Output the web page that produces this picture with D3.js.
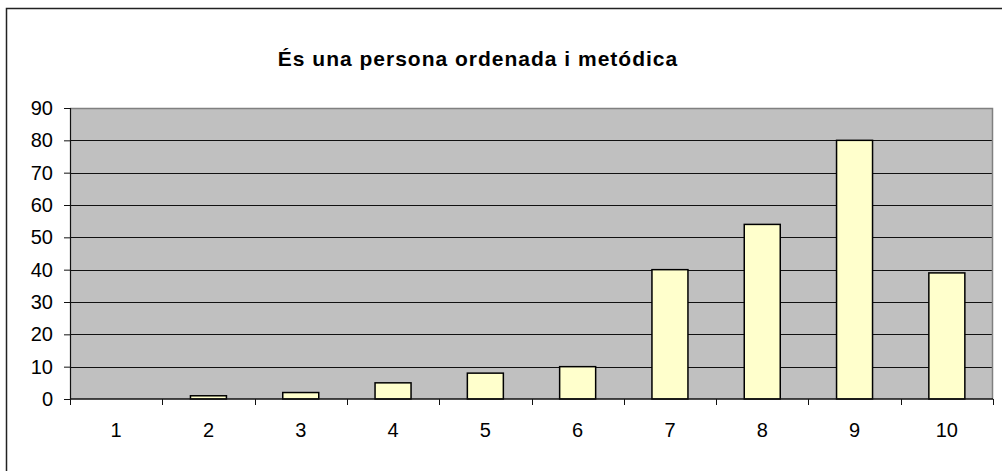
<!DOCTYPE html>
<html>
<head>
<meta charset="utf-8">
<script src="https://cdn.jsdelivr.net/npm/d3@7"></script>
<style>
  body { margin: 0; background: #fff; }
  text { font-family: "Liberation Sans", Arial, sans-serif; }
</style>
</head>
<body>
<div id="chart"></div>
<script>
// chart data
const categories = ["1", "2", "3", "4", "5", "6", "7", "8", "9", "10"];
const values = [0, 1, 2, 5, 8, 10, 40, 54, 80, 39];
const yTicks = [0, 10, 20, 30, 40, 50, 60, 70, 80, 90];
const title = "És una persona ordenada i metódica";

(function () {
  const W = 1002, H = 471;
  const margin = { top: 108, right: 9, bottom: 72, left: 70 };
  const width = W - margin.left - margin.right;
  const height = H - margin.top - margin.bottom;

  const svg = d3.select("#chart").append("svg")
    .attr("width", W)
    .attr("height", H);

  // outer chart border (runs off the right and bottom)
  svg.append("rect")
    .attr("x", 6.5).attr("y", 8.5)
    .attr("width", W + 20).attr("height", H + 20)
    .attr("fill", "none")
    .attr("stroke", "#222")
    .attr("stroke-width", 1.5);

  // title
  svg.append("text")
    .attr("x", 478)
    .attr("y", 66)
    .attr("text-anchor", "middle")
    .style("font-size", "21px")
    .style("font-weight", "bold")
    .style("letter-spacing", "1px")
    .text(title);

  const g = svg.append("g")
    .attr("transform", "translate(" + margin.left + "," + margin.top + ")");

  const x = d3.scaleBand()
    .domain(categories)
    .range([0, width])
    .paddingInner(0.61)
    .paddingOuter(0.305);

  const y = d3.scaleLinear().domain([0, 90]).range([height, 0]);

  // plot background
  g.append("rect")
    .attr("width", width).attr("height", height)
    .attr("fill", "#C0C0C0");

  // gridlines
  g.selectAll(".grid")
    .data(yTicks.filter(d => d > 0 && d < 90))
    .enter().append("line")
    .attr("x1", 0).attr("x2", width)
    .attr("y1", d => Math.round(y(d)) + 0.5)
    .attr("y2", d => Math.round(y(d)) + 0.5)
    .attr("stroke", "#111")
    .attr("stroke-width", 1);

  // plot frame top and right
  g.append("path")
    .attr("d", "M0,0.5H" + (width - 0.5) + "V" + height)
    .attr("fill", "none")
    .attr("stroke", "#808080")
    .attr("stroke-width", 1.5);

  // bars
  g.selectAll(".bar")
    .data(values)
    .enter().append("rect")
    .attr("class", "bar")
    .attr("x", (d, i) => x(categories[i]))
    .attr("y", d => y(d))
    .attr("width", x.bandwidth())
    .attr("height", d => height - y(d))
    .attr("fill", "#FFFFCC")
    .attr("stroke", d => d > 0 ? "#000" : "none")
    .attr("stroke-width", 1.5);

  // y axis
  const yAxis = g.append("g")
    .call(d3.axisLeft(y).tickValues(yTicks).tickSize(6).tickPadding(11));
  yAxis.select(".domain").attr("stroke", "#111").attr("stroke-width", 1.2);
  yAxis.selectAll(".tick line").attr("stroke", "#111");
  yAxis.selectAll("text")
    .style("font-family", "Liberation Sans, Arial, sans-serif")
    .style("font-size", "20px")
    .attr("fill", "#000");

  // x axis: ticks on category boundaries, labels centered
  const bounds = d3.range(categories.length + 1).map(i => i * width / categories.length);
  const xAxis = g.append("g").attr("transform", "translate(0," + height + ")");
  xAxis.append("line")
    .attr("x1", 0).attr("x2", width)
    .attr("stroke", "#111").attr("stroke-width", 1.5);
  xAxis.selectAll(".xtick")
    .data(bounds)
    .enter().append("line")
    .attr("x1", d => Math.round(d) + 0.5).attr("x2", d => Math.round(d) + 0.5)
    .attr("y1", 0).attr("y2", 6)
    .attr("stroke", "#111");
  xAxis.selectAll(".xlabel")
    .data(categories)
    .enter().append("text")
    .attr("x", d => x(d) + x.bandwidth() / 2)
    .attr("y", 38)
    .attr("text-anchor", "middle")
    .style("font-size", "20px")
    .text(d => d);
})();
</script>
</body>
</html>
